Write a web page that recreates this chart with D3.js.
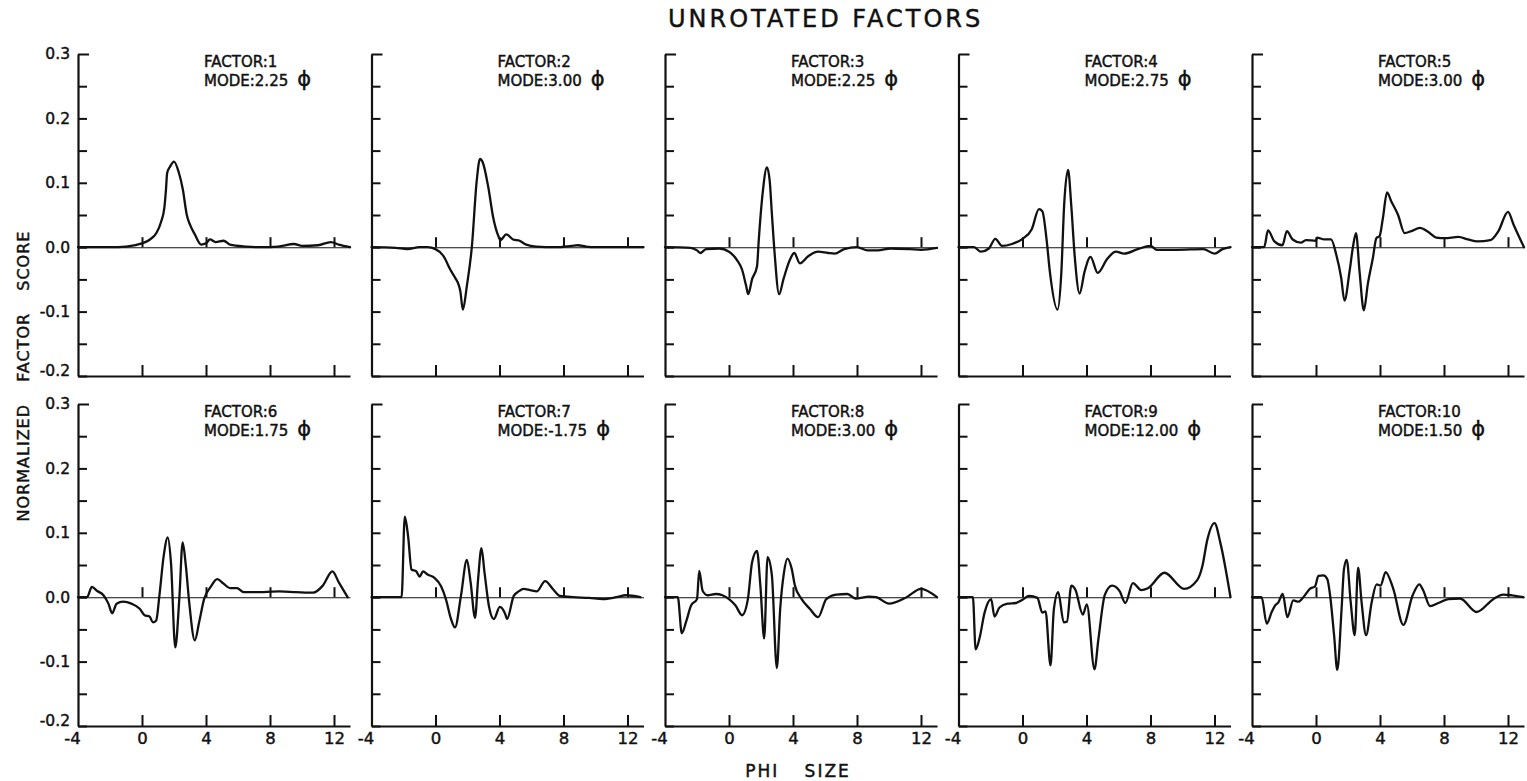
<!DOCTYPE html>
<html>
<head>
<meta charset="utf-8">
<script src="https://cdn.jsdelivr.net/npm/d3@7"></script>
<style>
  body { margin: 0; background: #fff; }
  svg text { font-family: "DejaVu Sans", "Liberation Sans", sans-serif; fill: #111; stroke: #111; stroke-width: 0.45; }
  .yaxis text { font-size: 15.5px; }
  .xaxis text { font-size: 16.5px; }
  .domain { stroke: #111; stroke-width: 2.2; }
  .tick line { stroke: #111; stroke-width: 2; }
  .zero .domain { stroke-width: 1.1; }
  .curve { fill: none; stroke: #111; stroke-width: 2.3; stroke-linejoin: round; stroke-linecap: round; }
</style>
</head>
<body>
<svg id="chart" width="1527" height="781"></svg>
<script>
// Factor numbers and modal phi sizes shown in each panel
const factorIds = [1, 2, 3, 4, 5, 6, 7, 8, 9, 10];
const factorModes = ["2.25", "3.00", "2.25", "2.75", "3.00", "1.75", "-1.75", "3.00", "12.00", "1.50"];

// Axis ticks
const xTicks = [-4, 0, 4, 8, 12];
const yTicks = [0.3, 0.2, 0.1, 0.0, -0.1, -0.2];
const yMinorTicks = [0.25, 0.15, 0.05, -0.05, -0.15];

// Normalized factor scores, [phi size, score]
const factor1 = [[-4,0],[-2,0],[-1,0.001],[-0.5,0.003],[0,0.006],[0.5,0.012],[0.9,0.022],[1.2,0.04],[1.4,0.062],[1.5,0.09],[1.57,0.115],[1.75,0.125],[2.0,0.133],[2.3,0.116],[2.55,0.09],[2.8,0.05],[3.0,0.035],[3.3,0.02],[3.7,0.004],[4.0,0.006],[4.25,0.012],[4.6,0.008],[5.1,0.01],[5.5,0.004],[6.5,0.001],[7.5,0],[8.5,0.001],[9.5,0.005],[10,0.002],[11,0.003],[11.8,0.008],[12.3,0.004],[13,0]];
const factor2 = [[-4,0],[-2.5,-0.001],[-1.75,-0.003],[-1,0],[-0.5,0],[0,-0.003],[0.5,-0.014],[0.93,-0.035],[1.24,-0.048],[1.44,-0.058],[1.55,-0.068],[1.71,-0.097],[1.96,-0.06],[2.27,0],[2.58,0.104],[2.78,0.137],[2.95,0.132],[3.3,0.093],[3.6,0.047],[3.95,0.016],[4.05,0.011],[4.43,0.02],[4.85,0.012],[5.26,0.01],[5.67,0.004],[6.3,0.001],[7.5,0],[8.5,0.002],[8.9,0.003],[9.4,0.001],[10,0],[13,0]];
const factor3 = [[-4,0],[-2.4,-0.001],[-2.0,-0.005],[-1.8,-0.009],[-1.44,-0.003],[-0.6,-0.002],[0,-0.007],[0.5,-0.02],[0.82,-0.035],[1.07,-0.06],[1.2,-0.073],[1.44,-0.05],[1.75,-0.03],[1.86,0.011],[2.1,0.083],[2.37,0.124],[2.54,0.104],[2.68,0.052],[2.85,-0.009],[3.13,-0.073],[3.4,-0.05],[3.8,-0.02],[4.08,-0.009],[4.43,-0.025],[4.95,-0.014],[5.57,-0.007],[6.19,-0.009],[6.6,-0.01],[7.2,-0.003],[8.0,0],[8.66,-0.005],[9.3,-0.005],[10.1,-0.002],[11.3,-0.003],[12,-0.004],[13,-0.001]];
const factor4 = [[-4,0],[-3.03,0],[-2.6,-0.007],[-2.1,-0.002],[-1.7,0.013],[-1.28,0.002],[-0.66,0.005],[0,0.013],[0.58,0.028],[1.03,0.059],[1.24,0.056],[1.5,0.013],[1.71,-0.038],[2.19,-0.097],[2.43,-0.038],[2.6,0.064],[2.85,0.12],[3.05,0.064],[3.26,-0.013],[3.57,-0.072],[3.88,-0.038],[4.25,-0.015],[4.7,-0.04],[5.3,-0.018],[5.84,-0.007],[6.35,-0.01],[7.2,-0.003],[8.0,0.002],[8.4,-0.004],[9.65,-0.004],[11.3,-0.003],[12,-0.01],[12.5,-0.003],[13,0]];
const factor5 = [[-4,0],[-3.24,0],[-3.0,0.026],[-2.6,0.009],[-2.1,0.003],[-1.82,0.025],[-1.46,0.012],[-0.94,0.007],[-0.63,0.011],[0,0.01],[0.06,0.015],[0.52,0.012],[0.94,0.012],[1.26,-0.011],[1.57,-0.047],[1.78,-0.083],[2.1,-0.037],[2.3,-0.001],[2.5,0.022],[2.72,-0.037],[2.99,-0.098],[3.24,-0.057],[3.56,-0.016],[3.77,0.014],[3.97,0.017],[4.18,0.045],[4.44,0.085],[4.71,0.071],[5.13,0.05],[5.54,0.022],[5.96,0.025],[6.49,0.03],[7.0,0.024],[7.53,0.015],[8.05,0.014],[8.9,0.016],[9.5,0.012],[10.1,0.009],[10.9,0.011],[11.4,0.025],[12.0,0.055],[12.35,0.035],[13,0]];
const factor6 = [[-4,0],[-3.44,0],[-3.13,0.016],[-2.82,0.01],[-2.41,0.003],[-2.1,-0.01],[-1.86,-0.025],[-1.59,-0.01],[-1.18,-0.007],[-0.66,-0.01],[-0.14,-0.018],[0.16,-0.028],[0.47,-0.03],[0.68,-0.039],[0.89,-0.036],[1.09,0.003],[1.36,0.065],[1.61,0.093],[1.81,0.054],[2.08,-0.078],[2.33,-0.003],[2.54,0.085],[2.74,0.049],[2.95,-0.008],[3.3,-0.067],[3.57,-0.039],[3.88,-0.003],[4.29,0.016],[4.7,0.028],[5.1,0.021],[5.5,0.014],[5.94,0.014],[6.35,0.008],[7.6,0.008],[8.6,0.009],[9.6,0.008],[10.7,0.007],[11.3,0.018],[11.9,0.04],[12.3,0.023],[12.85,0]];
const factor7 = [[-4,0],[-2.12,0],[-1.92,0.125],[-1.71,0.094],[-1.5,0.043],[-1.2,0.04],[-0.99,0.032],[-0.78,0.04],[-0.47,0.035],[-0.06,0.03],[0.35,0.017],[0.66,-0.004],[0.97,-0.034],[1.22,-0.047],[1.59,0.002],[1.96,0.058],[2.2,0.022],[2.47,-0.032],[2.66,0.027],[2.87,0.076],[3.07,0.037],[3.34,-0.014],[3.65,-0.034],[4.02,-0.015],[4.37,-0.027],[4.47,-0.034],[4.89,0.002],[5.2,0.009],[5.5,0.013],[5.92,0.011],[6.33,0.009],[6.85,0.025],[7.36,0.012],[7.77,0.002],[8.6,0],[9.6,-0.001],[10.45,-0.003],[11.3,0],[11.9,0.003],[12.8,0]];
const factor8 = [[-4,0],[-3.2,0],[-2.95,-0.056],[-2.68,-0.038],[-2.37,-0.013],[-2.0,-0.003],[-1.86,0.041],[-1.65,0.01],[-1.34,0.003],[-0.82,0.005],[-0.41,0.003],[0,-0.003],[0.41,-0.013],[0.82,-0.028],[1.18,-0.003],[1.44,0.054],[1.75,0.072],[1.96,0.018],[2.2,-0.064],[2.41,0.062],[2.68,0.034],[2.99,-0.11],[3.2,-0.018],[3.44,0.039],[3.65,0.06],[3.92,0.044],[4.12,0.018],[4.54,-0.003],[5.05,-0.018],[5.57,-0.031],[6.08,-0.003],[6.7,0.004],[7.4,0.005],[7.9,-0.002],[8.76,0.001],[9.2,0],[10.0,-0.01],[11.1,0],[12,0.013],[13,0]];
const factor9 = [[-4,0],[-3.1,0],[-2.93,-0.081],[-2.68,-0.063],[-2.37,-0.024],[-1.96,-0.003],[-1.75,-0.03],[-1.44,-0.016],[-0.93,-0.01],[-0.41,-0.009],[0,-0.004],[0.41,0.002],[0.93,-0.001],[1.24,-0.024],[1.44,-0.022],[1.75,-0.106],[1.96,-0.019],[2.23,0.008],[2.58,-0.039],[2.78,-0.038],[3.05,0.018],[3.3,0.012],[3.77,-0.027],[4.02,-0.011],[4.5,-0.112],[4.74,-0.066],[5.15,0.004],[5.6,0.018],[6.08,0.009],[6.43,-0.009],[6.9,0.022],[7.42,0.011],[7.84,0.014],[8.87,0.038],[10.1,0.013],[10.93,0.027],[11.24,0.048],[11.55,0.089],[12.0,0.115],[12.37,0.084],[13,0]];
const factor10 = [[-4,0],[-3.4,0],[-3.08,-0.041],[-2.77,-0.023],[-2.56,-0.013],[-2.35,-0.008],[-2.08,0.005],[-1.79,-0.031],[-1.42,-0.005],[-1.1,-0.007],[-0.79,0],[-0.38,0.013],[-0.06,0.017],[0.15,0.033],[0.46,0.034],[0.71,0.028],[0.88,0.003],[1.13,-0.059],[1.33,-0.113],[1.6,-0.018],[1.75,0.044],[1.92,0.058],[2.17,-0.008],[2.42,-0.059],[2.63,0.046],[2.85,-0.008],[3.13,-0.059],[3.48,-0.008],[3.79,0.02],[4.04,0.018],[4.35,0.039],[4.83,0.013],[5.46,-0.043],[6.04,0.003],[6.46,0.02],[6.71,0.01],[7.13,-0.014],[7.65,-0.009],[8.27,-0.003],[9.0,-0.002],[10.04,-0.023],[11.08,-0.003],[11.7,0.004],[12.23,0.003],[12.96,0]];

const factorScores = [factor1, factor2, factor3, factor4, factor5, factor6, factor7, factor8, factor9, factor10];

// Panel grid
const colLefts = d3.range(5).map(i => 78 + i * 293.5);
const rowTops = [54, 404];
const panelW = 272, panelH = 322;

const svg = d3.select("#chart");

const x = d3.scaleLinear().domain([-4, 13]).range([0, panelW]);
const y = d3.scaleLinear().domain([-0.2, 0.3]).range([panelH, 0]);
const line = d3.line().x(d => x(d[0])).y(d => y(d[1])).curve(d3.curveMonotoneX);
const fmtY = d => (d < 0 ? "-" : "") + Math.abs(d).toFixed(1);

// Title
svg.append("text")
  .attr("x", 668).attr("y", 27)
  .attr("font-size", 24).attr("letter-spacing", 3)
  .text("UNROTATED FACTORS");

// Shared axis titles
svg.append("text")
  .attr("transform", "translate(28.5,376) rotate(-90)")
  .attr("text-anchor", "middle")
  .attr("font-size", 16).attr("letter-spacing", 1).attr("word-spacing", 16)
  .text("NORMALIZED FACTOR SCORE");

svg.append("text")
  .attr("x", 798).attr("y", 777)
  .attr("text-anchor", "middle")
  .attr("font-size", 17).attr("letter-spacing", 2).attr("word-spacing", 18)
  .text("PHI SIZE");

factorScores.forEach((pts, i) => {
  const col = i % 5, row = Math.floor(i / 5);
  const g = svg.append("g").attr("transform", `translate(${colLefts[col]},${rowTops[row]})`);

  // left axis with inward ticks every 0.05
  const yAxis = d3.axisLeft(y)
    .tickValues(yTicks.concat(yMinorTicks))
    .tickSizeInner(-9).tickSizeOuter(0).tickPadding(8)
    .tickFormat(d => (col === 0 && yTicks.includes(d)) ? fmtY(d) : "");
  const gy = g.append("g").attr("class", "yaxis").call(yAxis);
  gy.selectAll(".tick").filter(d => d === 0.3).select("line").attr("x2", 11);
  gy.selectAll(".tick").filter(d => d === -0.2).select("text").attr("dy", "-0.05em");

  // zero reference line with ticks at each labelled phi
  const zeroAxis = d3.axisBottom(x)
    .tickValues(xTicks.filter(v => v > -4))
    .tickSizeInner(-10).tickSizeOuter(0).tickFormat("");
  g.append("g").attr("class", "zero").attr("transform", `translate(0,${y(0)})`).call(zeroAxis);

  // bottom axis
  const xAxis = d3.axisBottom(x)
    .tickValues(xTicks)
    .tickSizeInner(-11).tickSizeOuter(0).tickPadding(6)
    .tickFormat(d => row === 1 ? String(d) : "");
  const gx = g.append("g").attr("class", "xaxis").attr("transform", `translate(0,${panelH})`).call(xAxis);
  gx.selectAll(".tick").filter(d => d === -4).select("line").remove();
  gx.selectAll(".tick").filter(d => d === -4).select("text").attr("dx", -6);

  // factor curve
  g.append("path").datum(pts).attr("class", "curve").attr("d", line);

  // panel caption
  const cap = g.append("g").attr("transform", "translate(126,0)").attr("font-size", 15);
  cap.append("text").attr("y", 13).text("FACTOR:" + factorIds[i]);
  const mode = cap.append("text").attr("y", 32).text("MODE:" + factorModes[i]);
  mode.append("tspan").attr("dx", 9).attr("font-size", 21).text("ϕ");
});
</script>
</body>
</html>
